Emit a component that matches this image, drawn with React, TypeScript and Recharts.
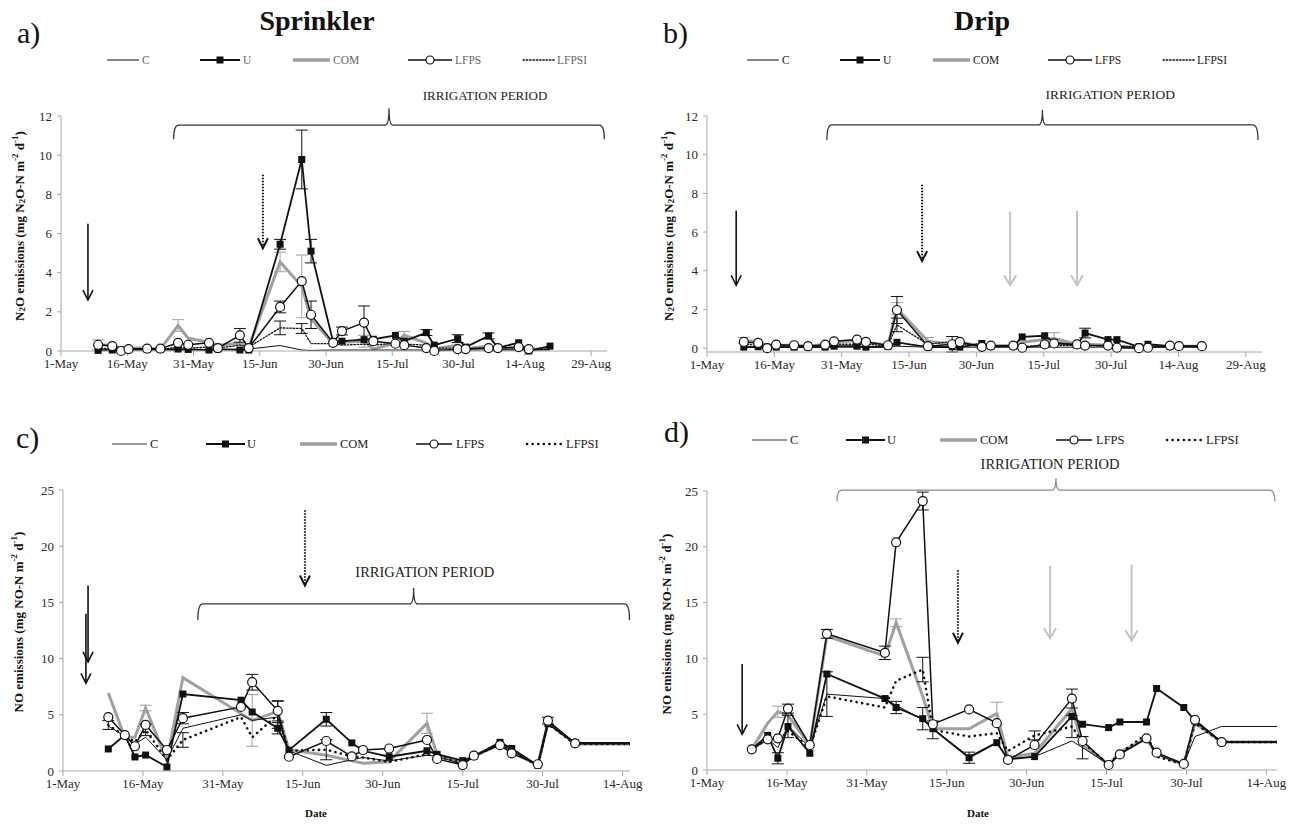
import React from 'react';
import { LineChart, Line, XAxis, YAxis, ReferenceLine, Legend, ErrorBar } from 'recharts';

const FONT = '"Liberation Serif", "Times New Roman", Times, serif';
const GRAY = '#a0a0a0';
const AXIS = '#a8a8a8';
const INK = '#111';

type Key = 'C' | 'U' | 'COM' | 'LFPS' | 'LFPSI';
type Pair = [number, number];

// x values: days after 1-May
const longTicks = [0, 15, 30, 45, 60, 75, 90, 105, 120];
const longTickLabels = ['1-May', '16-May', '31-May', '15-Jun', '30-Jun', '15-Jul', '30-Jul', '14-Aug', '29-Aug'];
const shortTicks = [0, 15, 30, 45, 60, 75, 90, 105];
const shortTickLabels = ['1-May', '16-May', '31-May', '15-Jun', '30-Jun', '15-Jul', '30-Jul', '14-Aug'];
const n2oTicks = [0, 2, 4, 6, 8, 10, 12];
const noTicks = [0, 5, 10, 15, 20, 25];

// a) Sprinkler N2O
const sprinklerN2ODays = [8.4, 11.6, 13.6, 15.3, 19.5, 22.5, 26.5, 28.8, 33.5, 35.5, 40.5, 42.5, 49.6, 54.5, 56.6, 61.6, 63.6, 68.6, 70.7, 75.7, 77.7, 82.7, 84.5, 89.8, 91.6, 96.8, 98.9, 103.6, 105.9, 110.7];
const aC = [0.05, 0.05, 0.02, 0.05, 0.05, 0.05, 0.05, 0.05, 0.05, 0.05, 0.1, 0.1, 0.28, 0.05, 0.03, 0.05, 0.05, 0.05, 0.05, 0.05, 0.05, 0.05, 0.05, 0.05, 0.05, 0.05, 0.05, 0.05, 0.05, 0.05];
const aU = [0.03, 0.05, 0.05, 0.08, 0.08, 0.08, 0.1, 0.08, 0.05, 0.1, 0.05, 0.05, 5.45, 9.78, 5.1, 0.46, 0.5, 0.58, 0.6, 0.8, 0.5, 0.94, 0.3, 0.63, 0.2, 0.77, 0.17, 0.42, 0.0, 0.25];
const aCOM = [0.32, 0.3, 0.1, 0.15, 0.15, 0.1, 1.3, 0.65, 0.45, 0.3, 0.4, 0.2, 4.55, 3.3, 1.65, 0.37, 0.45, 0.5, 0.1, 0.4, 0.8, 0.4, 0.1, 0.3, 0.1, 0.25, 0.1, 0.15, 0.1, 0.1];
const aLFPS = [0.32, 0.25, 0.0, 0.1, 0.12, 0.12, 0.42, 0.32, 0.42, 0.15, 0.8, 0.15, 2.25, 3.57, 1.85, 0.42, 1.02, 1.45, 0.5, 0.37, 0.3, 0.15, 0.0, 0.1, 0.1, 0.15, 0.15, 0.2, 0.1, null];
const aLFPSI = [0.15, 0.1, 0.05, 0.08, 0.08, 0.08, 0.2, 0.15, 0.2, 0.15, 0.3, 0.2, 1.18, 1.15, 0.38, 0.37, 0.3, 0.35, 0.3, 0.4, 0.35, 0.3, 0.15, 0.15, 0.15, 0.15, 0.1, 0.1, 0.05, 0.1];
const aUErr: Pair[] = [[12, 0.25], [13, 1.5], [14, 0.6], [21, 0.15], [23, 0.2], [25, 0.15]];
const aCOMErr: Pair[] = [[0, 0.25], [6, 0.3], [12, 0.5], [13, 1.6], [17, 0.3], [20, 0.2]];
const aLFPSErr: Pair[] = [[10, 0.35], [12, 0.3], [14, 0.7], [16, 0.2], [17, 0.85]];
const aLFPSIErr: Pair[] = [[12, 0.35], [13, 0.25]];

// b) Drip N2O
const dripN2ODays = [8.2, 11.4, 13.4, 15.4, 19.4, 22.5, 26.3, 28.3, 33.4, 35.4, 40.3, 42.3, 49.2, 54.6, 56.3, 61.2, 63.2, 68.2, 70.2, 75.2, 77.3, 82.4, 84.2, 89.3, 91.3, 96.2, 98.2, 103.1, 105.1, 110.2];
const bC = [0.05, 0.05, 0.03, 0.05, 0.05, 0.05, 0.05, 0.05, 0.05, 0.05, 0.05, 0.1, 0.05, 0.05, 0.05, 0.05, 0.05, 0.05, 0.05, 0.05, 0.05, 0.05, 0.05, 0.05, 0.05, 0.05, 0.05, 0.05, 0.05, 0.05];
const bU = [0.05, 0.07, 0.05, 0.05, 0.05, 0.05, 0.05, 0.1, 0.1, 0.05, 0.08, 0.3, 0.05, 0.07, 0.05, 0.24, 0.1, 0.1, 0.58, 0.64, 0.3, 0.15, 0.78, 0.44, 0.44, 0.07, 0.2, 0.1, 0.1, 0.1];
const bCOM = [0.4, 0.35, 0.1, 0.15, 0.15, 0.1, 0.2, 0.3, 0.4, 0.3, 0.15, 2.05, 0.35, 0.2, 0.3, 0.1, 0.1, 0.1, 0.3, 0.45, 0.5, 0.2, 0.2, 0.15, 0.1, 0.05, 0.1, 0.1, 0.1, 0.1];
const bLFPS = [0.32, 0.27, 0.0, 0.18, 0.15, 0.1, 0.18, 0.35, 0.44, 0.32, 0.15, 1.97, 0.1, 0.2, 0.32, 0.07, 0.13, 0.13, 0.02, 0.19, 0.24, 0.19, 0.13, 0.13, 0.02, 0.0, 0.02, 0.13, 0.1, 0.1];
const bLFPSI = [0.2, 0.15, 0.05, 0.1, 0.1, 0.08, 0.15, 0.2, 0.2, 0.2, 0.12, 1.2, 0.2, 0.35, 0.25, 0.1, 0.08, 0.1, 0.1, 0.1, 0.15, 0.15, 0.15, 0.1, 0.1, 0.05, 0.05, 0.08, 0.08, 0.08];
const bUErr: Pair[] = [[22, 0.25]];
const bCOMErr: Pair[] = [[0, 0.15], [11, 0.3], [12, 0.2], [20, 0.3]];
const bLFPSErr: Pair[] = [[11, 0.7], [13, 0.4]];
const bLFPSIErr: Pair[] = [[11, 0.35]];

// c) Sprinkler NO
const sprinklerNODays = [8.5, 11.6, 13.5, 15.5, 19.5, 22.5, 33.4, 35.5, 40.3, 42.4, 49.4, 54.2, 56.3, 61.2, 68.3, 70.2, 75.0, 77.1, 82.0, 84.2, 89.1, 91.0, 96.1, 110];
const cC = [4.0, 3.1, 2.4, 3.0, 1.0, 3.8, 5.0, 4.5, 4.8, 1.8, 0.5, 1.0, 1.2, 0.9, 1.4, 1.3, 0.6, 1.3, 2.4, 1.8, 0.5, 4.2, 2.4, 2.4];
const cU = [1.96, 3.2, 1.25, 1.42, 0.36, 6.85, 6.3, 5.25, 3.8, 1.85, 4.6, 2.5, 1.8, 1.27, 1.8, 1.48, 0.92, 1.3, 2.55, 2.0, 0.5, 4.2, 2.5, 2.5];
const cCOM = [6.94, 3.0, 3.0, 5.6, 0.9, 8.3, null, 4.5, 5.3, 1.9, 1.4, 0.9, 0.7, 0.83, 4.24, 1.5, 0.7, 1.3, 2.4, 1.7, 0.5, 4.3, 2.4, 2.4];
const cLFPS = [4.8, 3.2, 2.2, 4.1, 1.87, 4.7, 5.7, 7.9, 5.35, 1.27, 2.67, 1.3, 1.87, 2.0, 2.76, 1.07, 0.53, 1.36, 2.3, 1.57, 0.6, 4.48, 2.46, 2.46];
const cLFPSI = [4.1, 3.1, 2.6, 3.65, 1.0, 2.76, 4.8, 3.0, 5.0, 1.8, 1.9, 1.3, 1.2, 0.8, 1.5, 1.3, 0.7, 1.3, 2.4, 1.8, 0.5, 4.2, 2.4, 2.4];
const cUErr: Pair[] = [[8, 0.5], [10, 0.6]];
const cCOMErr: Pair[] = [[3, 0.25], [7, 2.3], [14, 0.9]];
const cLFPSErr: Pair[] = [[5, 0.5], [7, 0.7], [8, 0.9], [21, 0.3]];
const cLFPSIErr: Pair[] = [[0, 0.4], [3, 0.5], [5, 0.65], [8, 1.2], [10, 0.9]];

// d) Drip NO
const dripNODays = [8.4, 11.4, 13.3, 15.2, 19.3, 22.5, 33.4, 35.5, 40.5, 42.4, 49.2, 54.4, 56.5, 61.5, 68.5, 70.5, 75.4, 77.5, 82.5, 84.4, 89.5, 91.6, 96.6, 110];
const dC = [1.85, 2.8, 2.0, 4.0, 2.0, 6.8, 6.4, 5.8, 4.5, 3.7, 1.2, 2.5, 1.0, 1.2, 2.6, 2.0, 0.5, 1.5, 2.8, 1.4, 0.5, 3.0, 3.9, 3.9];
const dU = [1.85, 3.1, 1.05, 3.9, 1.5, 8.6, 6.4, 5.6, 4.6, 3.7, 1.1, 2.45, 0.95, 1.2, 4.8, 4.1, 3.8, 4.3, 4.3, 7.3, 5.6, 4.4, 2.5, 2.5];
const dCOM = [1.85, 4.2, 5.22, 4.9, 2.2, 12.0, 10.2, 13.2, 6.6, 3.7, 3.7, 5.07, 1.1, 1.5, 5.5, 2.2, 0.5, 1.6, 2.8, 1.4, 0.5, 4.2, 2.5, 2.5];
const dLFPS = [1.85, 2.75, 2.84, 5.5, 2.24, 12.2, 10.5, 20.4, 24.1, 4.1, 5.43, 4.2, 0.9, 2.24, 6.4, 2.6, 0.45, 1.4, 2.84, 1.55, 0.54, 4.5, 2.5, 2.5];
const dLFPSI = [1.85, 2.8, 2.5, 3.5, 2.0, 6.6, 5.6, 8.0, 9.0, 3.6, 3.0, 3.3, 1.7, 3.1, 3.9, 2.5, 0.5, 1.5, 3.2, 1.2, 0.5, 4.2, 2.5, 2.5];
const dCErr: Pair[] = [[5, 2.0], [15, 1.0]];
const dUErr: Pair[] = [[2, 0.5], [3, 1.0], [7, 0.55], [8, 1.0], [10, 0.5]];
const dCOMErr: Pair[] = [[2, 0.5], [7, 0.35], [11, 1.0]];
const dLFPSErr: Pair[] = [[3, 0.4], [5, 0.4], [6, 0.6], [8, 0.8], [14, 0.85]];
const dLFPSIErr: Pair[] = [[8, 1.1], [9, 0.8], [13, 0.4], [14, 1.0]];

function buildRows(
  days: number[],
  series: Record<Key, (number | null)[]>,
  errs: Partial<Record<Key, Pair[]>>
) {
  return days.map((day, i) => {
    const row: any = { day };
    (Object.keys(series) as Key[]).forEach((k) => {
      row[k] = series[k][i];
    });
    (Object.keys(errs) as Key[]).forEach((k) => {
      const hit = (errs[k] || []).find((p) => p[0] === i);
      row[k + 'err'] = hit ? hit[1] : 0;
    });
    return row;
  });
}

const rowsA = buildRows(sprinklerN2ODays, { C: aC, U: aU, COM: aCOM, LFPS: aLFPS, LFPSI: aLFPSI }, { U: aUErr, COM: aCOMErr, LFPS: aLFPSErr, LFPSI: aLFPSIErr });
const rowsB = buildRows(dripN2ODays, { C: bC, U: bU, COM: bCOM, LFPS: bLFPS, LFPSI: bLFPSI }, { U: bUErr, COM: bCOMErr, LFPS: bLFPSErr, LFPSI: bLFPSIErr });
const rowsC = buildRows(sprinklerNODays, { C: cC, U: cU, COM: cCOM, LFPS: cLFPS, LFPSI: cLFPSI }, { U: cUErr, COM: cCOMErr, LFPS: cLFPSErr, LFPSI: cLFPSIErr });
const rowsD = buildRows(dripNODays, { C: dC, U: dU, COM: dCOM, LFPS: dLFPS, LFPSI: dLFPSI }, { C: dCErr, U: dUErr, COM: dCOMErr, LFPS: dLFPSErr, LFPSI: dLFPSIErr });

interface LegendItem { k: Key; x1: number; x2: number; tx: number }
interface ArrowCfg { day: number; top: number; bottom: number; kind: 'solid' | 'dotted' | 'gray' }
interface BracketCfg { from: number; to: number; y: number; hook: number; spike: number; color: string; textDay: number; textY: number; textSize: number }
interface PanelCfg {
  id: string; left: number; top: number; width: number; height: number;
  margin: { top: number; right: number; bottom: number; left: number };
  yAxisWidth: number; xMax: number; xTicks: number[]; xLabels: string[];
  yMax: number; yTicks: number[]; rows: any[]; errKeys: Key[];
  legendY: number; legendItems: LegendItem[]; legendFont: number; legendColor: string;
  dotW: number; dotDash: string; arrows: ArrowCfg[]; bracket: BracketCfg; clipX: boolean;
}

const legendAB: LegendItem[] = [
  { k: 'C', x1: 107, x2: 139, tx: 142 },
  { k: 'U', x1: 200, x2: 240, tx: 243 },
  { k: 'COM', x1: 293, x2: 330, tx: 333 },
  { k: 'LFPS', x1: 408, x2: 452, tx: 455 },
  { k: 'LFPSI', x1: 523, x2: 555, tx: 557 },
];
const legendCD: LegendItem[] = [
  { k: 'C', x1: 112, x2: 147, tx: 150 },
  { k: 'U', x1: 206, x2: 245, tx: 247 },
  { k: 'COM', x1: 300, x2: 337, tx: 340 },
  { k: 'LFPS', x1: 416, x2: 452, tx: 456 },
  { k: 'LFPSI', x1: 527, x2: 562, tx: 566 },
];

const panels: PanelCfg[] = [
  {
    id: 'a', left: 0, top: 0, width: 640, height: 410,
    margin: { top: 116, right: 33, bottom: 29, left: 0 }, yAxisWidth: 61,
    xMax: 123.6, xTicks: longTicks, xLabels: longTickLabels, yMax: 12, yTicks: n2oTicks,
    rows: rowsA, errKeys: ['U', 'COM', 'LFPS', 'LFPSI'],
    legendY: 60, legendItems: legendAB, legendFont: 11.5, legendColor: '#666',
    dotW: 1.3, dotDash: '1.5 1.8',
    arrows: [
      { day: 6.1, top: 6.5, bottom: 2.6, kind: 'solid' },
      { day: 45.7, top: 9.0, bottom: 5.25, kind: 'dotted' },
    ],
    bracket: { from: 25.5, to: 123, y: 11.53, hook: 14, spike: 17, color: '#333', textDay: 96, textY: 12.82, textSize: 13 },
    clipX: false,
  },
  {
    id: 'b', left: 640, top: 0, width: 657, height: 410,
    margin: { top: 116, right: 35, bottom: 28, left: 0 }, yAxisWidth: 67,
    xMax: 123.6, xTicks: longTicks, xLabels: longTickLabels, yMax: 12, yTicks: n2oTicks,
    rows: rowsB, errKeys: ['U', 'COM', 'LFPS', 'LFPSI'],
    legendY: 60, legendItems: legendAB, legendFont: 11.5, legendColor: '#222',
    dotW: 1.3, dotDash: '1.5 1.8',
    arrows: [
      { day: 6.5, top: 7.1, bottom: 3.25, kind: 'solid' },
      { day: 47.9, top: 8.45, bottom: 4.5, kind: 'dotted' },
      { day: 67.5, top: 7.07, bottom: 3.25, kind: 'gray' },
      { day: 82.4, top: 7.1, bottom: 3.25, kind: 'gray' },
    ],
    bracket: { from: 26.7, to: 122.7, y: 11.54, hook: 15, spike: 15, color: '#333', textDay: 89.8, textY: 12.86, textSize: 13.5 },
    clipX: false,
  },
  {
    id: 'c', left: 0, top: 420, width: 660, height: 406,
    margin: { top: 70, right: 30, bottom: 25, left: 0 }, yAxisWidth: 63,
    xMax: 106.4, xTicks: shortTicks, xLabels: shortTickLabels, yMax: 25, yTicks: noTicks,
    rows: rowsC, errKeys: ['U', 'COM', 'LFPS', 'LFPSI'],
    legendY: 24, legendItems: legendCD, legendFont: 12.5, legendColor: '#222',
    dotW: 2.6, dotDash: '0.1 5.5',
    arrows: [
      { day: 4.7, top: 16.5, bottom: 9.7, kind: 'solid' },
      { day: 4.3, top: 14.0, bottom: 7.8, kind: 'solid' },
      { day: 45.4, top: 23.2, bottom: 16.5, kind: 'dotted' },
    ],
    bracket: { from: 25.3, to: 106.3, y: 14.86, hook: 16, spike: 16, color: '#333', textDay: 67.9, textY: 17.26, textSize: 14.5 },
    clipX: true,
  },
  {
    id: 'd', left: 640, top: 420, width: 657, height: 406,
    margin: { top: 71, right: 20, bottom: 26, left: 0 }, yAxisWidth: 67,
    xMax: 107, xTicks: shortTicks, xLabels: shortTickLabels, yMax: 25, yTicks: noTicks,
    rows: rowsD, errKeys: ['C', 'U', 'COM', 'LFPS', 'LFPSI'],
    legendY: 20, legendItems: legendCD, legendFont: 12.5, legendColor: '#222',
    dotW: 2.6, dotDash: '0.1 5.5',
    arrows: [
      { day: 6.6, top: 9.5, bottom: 3.2, kind: 'solid' },
      { day: 47.1, top: 17.9, bottom: 11.4, kind: 'dotted' },
      { day: 64.4, top: 18.3, bottom: 11.8, kind: 'gray' },
      { day: 79.7, top: 18.4, bottom: 11.6, kind: 'gray' },
    ],
    bracket: { from: 24.4, to: 106.6, y: 25.07, hook: 11, spike: 12, color: '#888', textDay: 64.4, textY: 26.97, textSize: 14.5 },
    clipX: true,
  },
];

const squareDot = (p: any) => {
  const { cx, cy, index } = p;
  if (cx == null || cy == null || p.value == null) return <g key={`sq-${index}`} />;
  return <rect key={`sq-${index}`} x={cx - 3.5} y={cy - 3.5} width={7} height={7} fill={INK} />;
};

const arrowShape = (kind: ArrowCfg['kind']) => (p: any) => {
  const { x1, y1, x2, y2 } = p;
  const color = kind === 'gray' ? '#c4c4c4' : INK;
  const sw = kind === 'gray' ? 2 : kind === 'dotted' ? 2 : 1.6;
  const dash = kind === 'dotted' ? '1.6 1.4' : undefined;
  const hw = kind === 'gray' ? 6 : 5;
  return (
    <g>
      <line x1={x1} y1={y1} x2={x2} y2={y2 - 1} stroke={color} strokeWidth={sw} strokeDasharray={dash} />
      <path d={`M${x2 - hw},${y2 - 10} L${x2},${y2} L${x2 + hw},${y2 - 10}`} fill="none" stroke={color} strokeWidth={sw} />
    </g>
  );
};

const bracketShape = (b: BracketCfg) => (p: any) => {
  const { x1, y1, x2 } = p;
  const cx = (x1 + x2) / 2;
  const r = 5;
  const d = [
    `M${x1},${y1 + b.hook}`,
    `Q${x1},${y1} ${x1 + r},${y1}`,
    `L${cx - 4},${y1}`,
    `Q${cx},${y1} ${cx},${y1 - b.spike}`,
    `Q${cx},${y1} ${cx + 4},${y1}`,
    `L${x2 - r},${y1}`,
    `Q${x2},${y1} ${x2},${y1 + b.hook}`,
  ].join(' ');
  return <path d={d} fill="none" stroke={b.color} strokeWidth={1.3} />;
};

const textShape = (b: BracketCfg) => (p: any) => (
  <text x={p.x1} y={p.y1} textAnchor="middle" fontFamily={FONT} fontSize={b.textSize} fill="#222">
    IRRIGATION PERIOD
  </text>
);

function LegendIcon({ it, cy, dotW, dotDash }: { it: LegendItem; cy: number; dotW: number; dotDash: string }) {
  const mid = (it.x1 + it.x2) / 2;
  switch (it.k) {
    case 'C':
      return <line x1={it.x1} x2={it.x2} y1={cy} y2={cy} stroke="#333" strokeWidth={1.2} />;
    case 'U':
      return (
        <g>
          <line x1={it.x1} x2={it.x2} y1={cy} y2={cy} stroke={INK} strokeWidth={1.8} />
          <rect x={mid - 3.5} y={cy - 3.5} width={7} height={7} fill={INK} />
        </g>
      );
    case 'COM':
      return <line x1={it.x1} x2={it.x2} y1={cy} y2={cy} stroke={GRAY} strokeWidth={3.5} />;
    case 'LFPS':
      return (
        <g>
          <line x1={it.x1} x2={it.x2} y1={cy} y2={cy} stroke={INK} strokeWidth={1.5} />
          <circle cx={mid} cy={cy} r={4} fill="#fff" stroke={INK} strokeWidth={1.2} />
        </g>
      );
    default:
      return <line x1={it.x1} x2={it.x2} y1={cy} y2={cy} stroke={INK} strokeWidth={dotW} strokeDasharray={dotDash} strokeLinecap="round" />;
  }
}

function Panel({ cfg }: { cfg: PanelCfg }) {
  const legendContent = () => (
    <svg width={cfg.width} height={24} style={{ display: 'block', overflow: 'visible' }}>
      {cfg.legendItems.map((it) => (
        <g key={it.k}>
          <LegendIcon it={it} cy={12} dotW={cfg.dotW} dotDash={cfg.dotDash} />
          <text x={it.tx} y={12} dominantBaseline="central" fontFamily={FONT} fontSize={cfg.legendFont} fill={cfg.legendColor}>
            {it.k}
          </text>
        </g>
      ))}
    </svg>
  );
  const err = (k: Key, color: string) =>
    cfg.errKeys.includes(k) ? (
      <ErrorBar dataKey={k + 'err'} direction="y" width={6} stroke={color} strokeWidth={1} />
    ) : null;
  const tickStyle = { fontSize: 13, fill: '#2a2a2a', fontFamily: FONT };
  const b = cfg.bracket;
  return (
    <div style={{ position: 'absolute', left: cfg.left, top: cfg.top, width: cfg.width, height: cfg.height }}>
      <LineChart width={cfg.width} height={cfg.height} data={cfg.rows} margin={cfg.margin} style={{ fontFamily: FONT }}>
        <XAxis
          dataKey="day"
          type="number"
          domain={[0, cfg.xMax]}
          ticks={cfg.xTicks}
          interval={0}
          allowDataOverflow={cfg.clipX}
          tickFormatter={(v: number) => cfg.xLabels[cfg.xTicks.indexOf(v)] ?? ''}
          stroke={AXIS}
          tickLine={{ stroke: AXIS }}
          tickSize={5}
          tickMargin={3}
          tick={tickStyle}
          height={30}
        />
        <YAxis
          type="number"
          domain={[0, cfg.yMax]}
          ticks={cfg.yTicks}
          interval={0}
          stroke={AXIS}
          tickLine={{ stroke: AXIS }}
          tickSize={4}
          tickMargin={5}
          tick={tickStyle}
          width={cfg.yAxisWidth}
        />
        <Legend
          verticalAlign="middle"
          align="center"
          layout="horizontal"
          content={legendContent}
          wrapperStyle={{ top: cfg.legendY - 12, left: 0, width: cfg.width, height: 24 }}
        />
        <Line dataKey="COM" stroke={GRAY} strokeWidth={3} dot={false} connectNulls isAnimationActive={false}>
          {err('COM', GRAY)}
        </Line>
        <Line dataKey="C" stroke={INK} strokeWidth={1} dot={false} isAnimationActive={false}>
          {err('C', INK)}
        </Line>
        <Line dataKey="LFPSI" stroke={INK} strokeWidth={cfg.dotW} strokeDasharray={cfg.dotDash} strokeLinecap="round" dot={false} isAnimationActive={false}>
          {err('LFPSI', INK)}
        </Line>
        <Line dataKey="U" stroke={INK} strokeWidth={1.8} dot={squareDot} isAnimationActive={false}>
          {err('U', INK)}
        </Line>
        <Line dataKey="LFPS" stroke={INK} strokeWidth={1.5} dot={{ r: 4.5, fill: '#fff', stroke: INK, strokeWidth: 1.2 }} isAnimationActive={false}>
          {err('LFPS', INK)}
        </Line>
        {cfg.arrows.map((a, i) => (
          <ReferenceLine
            key={`arrow-${i}`}
            segment={[{ x: a.day, y: a.top }, { x: a.day, y: a.bottom }]}
            ifOverflow="visible"
            shape={arrowShape(a.kind)}
          />
        ))}
        <ReferenceLine
          segment={[{ x: b.from, y: b.y }, { x: b.to, y: b.y }]}
          ifOverflow="visible"
          shape={bracketShape(b)}
        />
        <ReferenceLine
          segment={[{ x: b.textDay, y: b.textY }, { x: b.textDay, y: b.textY }]}
          ifOverflow="visible"
          shape={textShape(b)}
        />
      </LineChart>
    </div>
  );
}

function N2OLabel() {
  return (
    <>
      N<tspan dy={3} fontSize={9}>2</tspan>
      <tspan dy={-3}>O emissions (mg N</tspan>
      <tspan dy={3} fontSize={9}>2</tspan>
      <tspan dy={-3}>O-N m</tspan>
      <tspan dy={-4} fontSize={9}>-2</tspan>
      <tspan dy={4}> d</tspan>
      <tspan dy={-4} fontSize={9}>-1</tspan>
      <tspan dy={4}>)</tspan>
    </>
  );
}

function NOLabel() {
  return (
    <>
      NO emissions (mg NO-N m
      <tspan dy={-4} fontSize={9}>-2</tspan>
      <tspan dy={4}> d</tspan>
      <tspan dy={-4} fontSize={9}>-1</tspan>
      <tspan dy={4}>)</tspan>
    </>
  );
}

const yLabels = [
  { cx: 19, cy: 226, kind: 'N2O' },
  { cx: 668, cy: 226, kind: 'N2O' },
  { cx: 18, cy: 622, kind: 'NO' },
  { cx: 666, cy: 624, kind: 'NO' },
];

const panelLetters = [
  { t: 'a)', x: 17, y: 43 },
  { t: 'b)', x: 663, y: 43 },
  { t: 'c)', x: 16, y: 448 },
  { t: 'd)', x: 664, y: 442 },
];

export default function App() {
  return (
    <div style={{ position: 'absolute', left: 0, top: 0, width: 1297, height: 826, background: '#fff', overflow: 'hidden', fontFamily: FONT }}>
      {panels.map((p) => (
        <Panel key={p.id} cfg={p} />
      ))}
      <svg width={1297} height={826} style={{ position: 'absolute', left: 0, top: 0, pointerEvents: 'none' }}>
        <text x={317} y={30} textAnchor="middle" fontFamily={FONT} fontWeight="bold" fontSize={28} fill="#111">Sprinkler</text>
        <text x={982} y={30} textAnchor="middle" fontFamily={FONT} fontWeight="bold" fontSize={28} fill="#111">Drip</text>
        {panelLetters.map((l) => (
          <text key={l.t} x={l.x} y={l.y} fontFamily={FONT} fontSize={30} fill="#111">{l.t}</text>
        ))}
        {yLabels.map((l, i) => (
          <text
            key={i}
            transform={`translate(${l.cx},${l.cy}) rotate(-90)`}
            textAnchor="middle"
            dominantBaseline="central"
            fontFamily={FONT}
            fontWeight="bold"
            fontSize={13}
            fill="#111"
          >
            {l.kind === 'N2O' ? <N2OLabel /> : <NOLabel />}
          </text>
        ))}
        <text x={316} y={817} textAnchor="middle" fontFamily={FONT} fontWeight="bold" fontSize={11} fill="#111">Date</text>
        <text x={978} y={817} textAnchor="middle" fontFamily={FONT} fontWeight="bold" fontSize={11} fill="#111">Date</text>
      </svg>
    </div>
  );
}
